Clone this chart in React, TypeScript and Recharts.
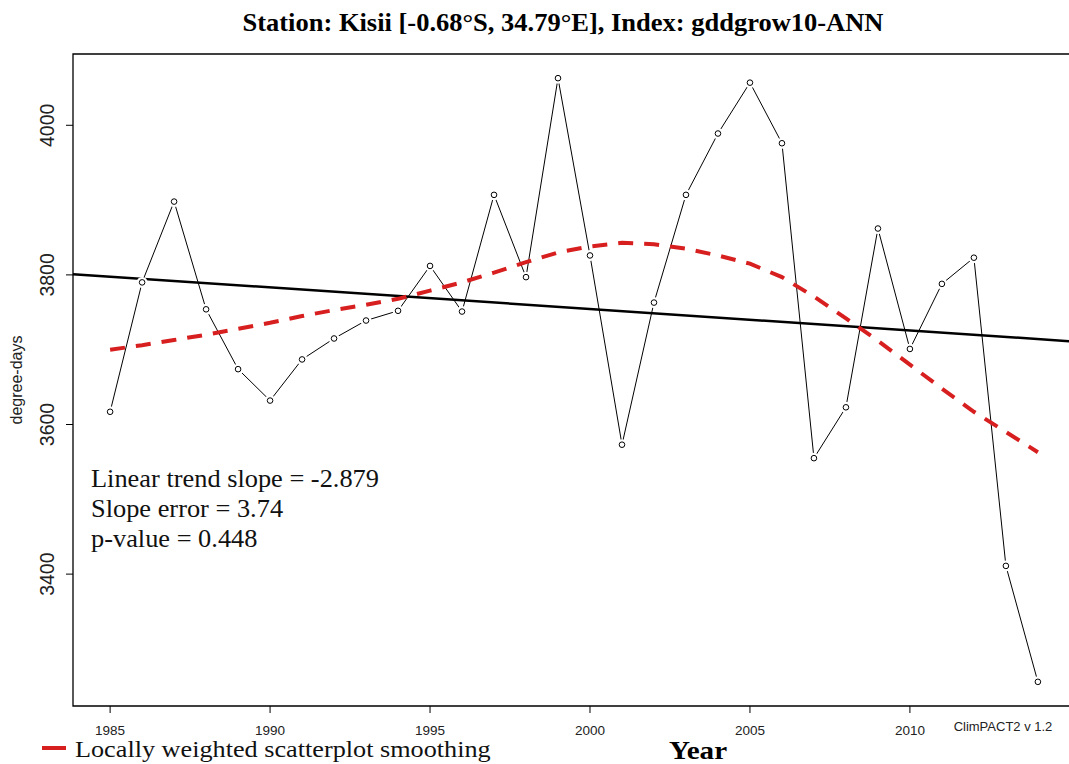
import { LineChart, Line, XAxis, YAxis, ReferenceArea, ReferenceLine } from "recharts";

// Annual gddgrow10 at Kisii (degree-days)
const years = [
  1985, 1986, 1987, 1988, 1989, 1990, 1991, 1992, 1993, 1994,
  1995, 1996, 1997, 1998, 1999, 2000, 2001, 2002, 2003, 2004,
  2005, 2006, 2007, 2008, 2009, 2010, 2011, 2012, 2013, 2014,
];
const gddgrow10 = [
  3617, 3790, 3898, 3754, 3674, 3632, 3687, 3715, 3739, 3752,
  3812, 3751, 3907, 3797, 4063, 3826, 3573, 3763, 3907, 3989,
  4057, 3976, 3555, 3623, 3862, 3701, 3788, 3823, 3411, 3256,
];
// lowess fit of the same series
const loessFit = [
  3700, 3706, 3713, 3720, 3728, 3736, 3745, 3753, 3760, 3768,
  3779, 3790, 3803, 3817, 3830, 3838, 3843, 3841, 3835, 3826,
  3815, 3797, 3771, 3742, 3712, 3680, 3648, 3617, 3590, 3563,
];

const xTicks = [1985, 1990, 1995, 2000, 2005, 2010];
const yTicks = [3400, 3600, 3800, 4000];

const trendSlope = -2.879;
const trendAt2000 = 3754.5;
const slopeError = 3.74;
const pValue = 0.448;

const xDomain: [number, number] = [1983.84, 2015.16];
const yDomain: [number, number] = [3223.7, 4095.3];

const rows = years.map((year, i) => ({ year, value: gddgrow10[i], loess: loessFit[i] }));
const trendAt = (yr: number) => trendAt2000 + trendSlope * (yr - 2000);

const SERIF = "'Liberation Serif', 'Times New Roman', serif";
const SANS = "'Liberation Sans', Arial, sans-serif";
const RED = "#d81f1f";

// text widened a little along x (the R device output is slightly stretched)
const WideText = ({ x, y, sx, children, ...rest }: any) => (
  <text transform={`translate(${x} ${y}) scale(${sx} 1)`} x={0} y={0} {...rest}>
    {children}
  </text>
);

const XTick = ({ x, payload }: any) => (
  <text x={x} y={735} textAnchor="middle" fontFamily={SANS} fontSize={13.5} fill="#222">
    {payload.value}
  </text>
);

const YTick = ({ y, payload }: any) => (
  <text
    x={54}
    y={y}
    transform={`rotate(-90 54 ${y})`}
    textAnchor="middle"
    fontFamily={SANS}
    fontSize={19.5}
    fill="#222"
  >
    {payload.value}
  </text>
);

// open circle with a white gap around it, like R's type = "b"
const PointDot = (props: any) => {
  const { cx, cy, index } = props;
  return (
    <g key={`pt-${index}`}>
      <circle cx={cx} cy={cy} r={5.5} fill="#fff" />
      <circle cx={cx} cy={cy} r={2.8} fill="#fff" stroke="#000" strokeWidth={1} />
    </g>
  );
};

export default function App() {
  return (
    <div
      style={{
        position: "absolute",
        left: 0,
        top: 0,
        width: 1069,
        height: 764,
        overflow: "hidden",
        background: "#fff",
      }}
    >
      <LineChart
        width={1090}
        height={764}
        data={rows}
        margin={{ top: 54, right: 15, bottom: 0, left: 0 }}
      >
        <XAxis
          dataKey="year"
          type="number"
          domain={xDomain}
          ticks={xTicks}
          allowDataOverflow
          axisLine={false}
          tickLine={{ stroke: "#000" }}
          tickSize={7}
          height={58}
          tick={<XTick />}
        />
        <YAxis
          type="number"
          domain={yDomain}
          ticks={yTicks}
          allowDataOverflow
          axisLine={false}
          tickLine={{ stroke: "#000" }}
          tickSize={7}
          width={73}
          tick={<YTick />}
        />
        <ReferenceArea
          x1={xDomain[0]}
          x2={xDomain[1]}
          y1={yDomain[0]}
          y2={yDomain[1]}
          fill="none"
          stroke="#000"
          strokeWidth={1.3}
          fillOpacity={0}
        />
        <Line
          dataKey="value"
          type="linear"
          stroke="#000"
          strokeWidth={1}
          dot={PointDot}
          activeDot={false}
          isAnimationActive={false}
        />
        <ReferenceLine
          segment={[
            { x: xDomain[0], y: trendAt(xDomain[0]) },
            { x: xDomain[1], y: trendAt(xDomain[1]) },
          ]}
          stroke="#000"
          strokeWidth={2.5}
          ifOverflow="visible"
        />
        <Line
          dataKey="loess"
          type="linear"
          stroke={RED}
          strokeWidth={4}
          strokeDasharray="15 11"
          dot={false}
          activeDot={false}
          isAnimationActive={false}
        />
      </LineChart>
      <svg
        width={1069}
        height={764}
        style={{ position: "absolute", left: 0, top: 0, pointerEvents: "none" }}
      >
        <WideText
          x={563}
          y={31}
          sx={1.06}
          textAnchor="middle"
          fontFamily={SERIF}
          fontWeight="bold"
          fontSize={25}
          fill="#000"
        >
          Station: Kisii [-0.68°S, 34.79°E], Index: gddgrow10-ANN
        </WideText>
        <text
          x={22}
          y={380}
          transform="rotate(-90 22 380)"
          textAnchor="middle"
          fontFamily={SANS}
          fontSize={16}
          fill="#222"
        >
          degree-days
        </text>
        <g fontFamily={SERIF} fontSize={25} fill="#111">
          <WideText x={91} y={487} sx={1.055}>Linear trend slope = {trendSlope}</WideText>
          <WideText x={91} y={517} sx={1.055}>Slope error = {slopeError}</WideText>
          <WideText x={91} y={547} sx={1.055}>p-value = {pValue}</WideText>
        </g>
        <text x={1003} y={731} textAnchor="middle" fontFamily={SANS} fontSize={13} fill="#222">
          ClimPACT2 v 1.2
        </text>
        <line x1={42} x2={66} y1={748} y2={748} stroke={RED} strokeWidth={4} />
        <WideText x={75} y={757} sx={1.14} fontFamily={SERIF} fontSize={23} fill="#111">
          Locally weighted scatterplot smoothing
        </WideText>
        <WideText
          x={698}
          y={759}
          sx={1.12}
          textAnchor="middle"
          fontFamily={SERIF}
          fontWeight="bold"
          fontSize={26}
          fill="#000"
        >
          Year
        </WideText>
      </svg>
    </div>
  );
}
